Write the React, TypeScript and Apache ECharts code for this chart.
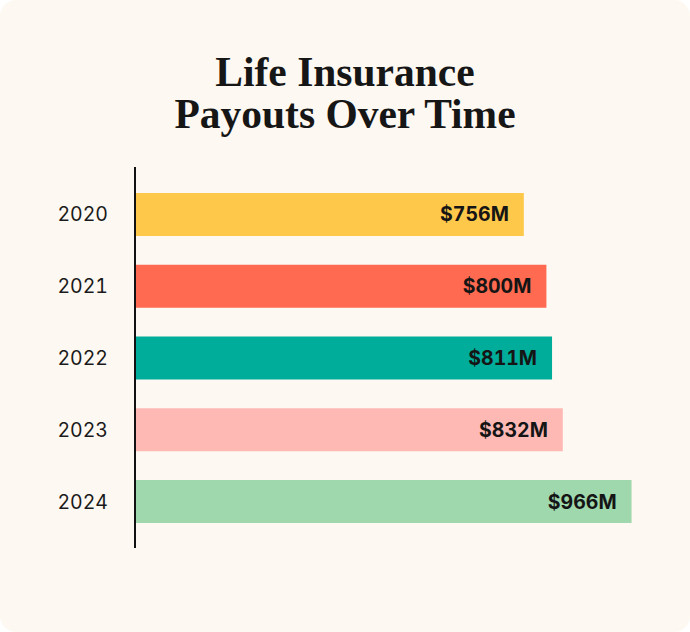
import React, { useEffect, useRef } from "react";
import * as echarts from "echarts";

const titleLines = ["Life Insurance", "Payouts Over Time"];
const years = ["2020", "2021", "2022", "2023", "2024"];
const payouts = [756, 800, 811, 832, 966];
const barColors = ["#FEC84B", "#FF6A50", "#00AD9A", "#FFB9B5", "#9FD8AD"];

export default function App() {
  const ref = useRef<HTMLDivElement>(null);

  useEffect(() => {
    document.body.style.margin = "0";
    const chart = echarts.init(ref.current!, null, { renderer: "svg" });
    chart.setOption({
      animation: false,
      backgroundColor: "transparent",
      title: titleLines.map((t, i) => ({
        text: t,
        left: "center",
        top: 50.5 + i * 42,
        padding: 0,
        textStyle: {
          fontFamily: "Liberation Serif",
          fontWeight: "bold",
          fontSize: 41.5,
          lineHeight: 42,
          color: "#161616",
        },
      })),
      grid: { left: 136, right: 41, top: 178.6, bottom: 94.6 },
      xAxis: {
        type: "value",
        min: 0,
        max: 1000,
        show: false,
      },
      yAxis: {
        type: "category",
        data: years,
        inverse: true,
        axisLine: { show: false },
        axisTick: { show: false },
        axisLabel: {
          margin: 28,
          fontFamily: "Inter",
          fontSize: 19.5,
          color: "#1a1a1a",
        },
      },
      series: [
        {
          type: "bar",
          barWidth: 43,
          data: payouts.map((v, i) => ({
            value: v,
            itemStyle: { color: barColors[i] },
          })),
          label: {
            show: true,
            position: "insideRight",
            distance: 15,
            formatter: (p: any) => `$${p.value}M`,
            fontFamily: "Inter",
            fontWeight: "bold",
            fontSize: 19.5,
            color: "#151515",
          },
        },
      ],
      graphic: [
        {
          type: "line",
          shape: { x1: 135, y1: 167, x2: 135, y2: 548 },
          style: { stroke: "#111111", lineWidth: 2 },
          z: 10,
        },
      ],
    });
    return () => chart.dispose();
  }, []);

  return (
    <div
      style={{
        position: "absolute",
        left: 0,
        top: 0,
        width: 690,
        height: 632,
        background: "#FDF8F1",
        borderRadius: 16,
        overflow: "hidden",
      }}
    >
      <style>{`#root text { font-feature-settings: "tnum" 1; }`}</style>
      <div ref={ref} style={{ width: 690, height: 632 }} />
    </div>
  );
}
